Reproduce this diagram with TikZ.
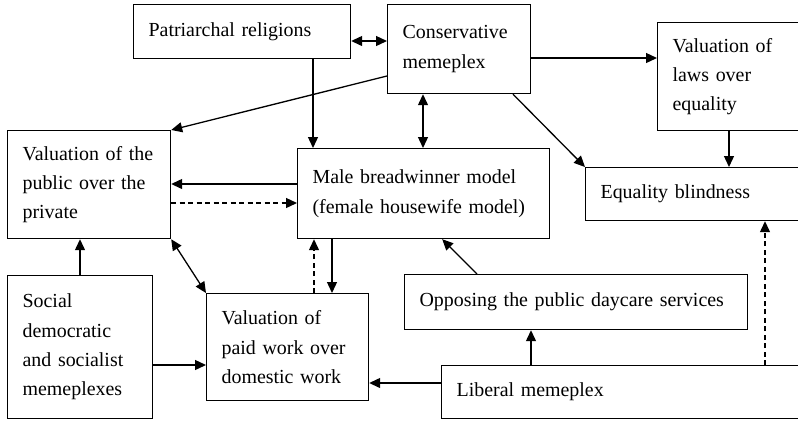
\documentclass[tikz,border=0pt]{standalone}
\usepackage{fontspec}
\setmainfont{Liberation Serif}
\usetikzlibrary{arrows.meta,calc}

\tikzset{
  box/.style={draw, line width=1.2bp, anchor=north west, inner xsep=15bp, inner ysep=0pt,
              align=left, font=\fontsize{20}{29.5}\selectfont},
  tip/.style={Triangle[length=11bp,width=10bp]},
  arr/.style={line width=1.3bp, -{Triangle[length=11bp,width=10bp]}},
  biarr/.style={line width=1.3bp, {Triangle[length=11bp,width=10bp]}-{Triangle[length=11bp,width=10bp]}},
  dasharr/.style={arr, dash pattern=on 5bp off 3.5bp},
}

\begin{document}
\begin{tikzpicture}[x=1bp,y=-1bp]
\useasboundingbox (0,0) rectangle (798,420);

% boxes: corner, then width and height in bp
\node[box, text width=187bp, minimum height=54bp]  (pat)  at (133,4)   {Patriarchal religions};
\node[box, text width=113bp, minimum height=89bp]  (cons) at (387,4)   {Conservative\\memeplex};
\node[box, text width=120bp, minimum height=108bp] (laws) at (657,22)  {Valuation of\\laws over\\equality};
\node[box, text width=133bp, minimum height=108bp] (pub)  at (7,130)   {Valuation of the\\public over the\\private};
\node[box, text width=222bp, minimum height=90bp]  (male) at (297,148) {Male breadwinner model\\(female housewife model)};
\node[box, text width=190bp, minimum height=53bp]  (eq)   at (585,167) {Equality blindness};
\node[box, text width=115bp, minimum height=143bp] (soc)  at (7,275)   {Social\\democratic\\and socialist\\memeplexes};
\node[box, text width=132bp, minimum height=107bp] (paid) at (206,293) {Valuation of\\paid work over\\domestic work};
\node[box, text width=313bp, minimum height=55bp]  (opp)  at (404,274) {Opposing the public daycare services};
\node[box, text width=334bp, minimum height=53bp]  (lib)  at (441,365) {Liberal memeplex};

% attachment points on box edges
\coordinate (c1) at ($(pat.north east)+(0,37)$);
\coordinate (c2) at ($(pat.south west)+(180,0)$);
\coordinate (c3) at ($(cons.north east)+(0,54)$);
\coordinate (c4) at ($(cons.north west)+(0,72)$);
\coordinate (c5) at ($(cons.south west)+(126,0)$);
\coordinate (c6) at ($(cons.south west)+(36,0)$);
\coordinate (c7) at ($(laws.south west)+(72,0)$);
\coordinate (c8) at ($(male.north west)+(0,36)$);
\coordinate (c9) at ($(pub.north east)+(0,73)$);
\coordinate (c10) at ($(soc.north west)+(73,0)$);
\coordinate (c11) at ($(paid.north west)+(108,0)$);
\coordinate (c12) at ($(paid.north west)+(126,0)$);
\coordinate (c13) at ($(soc.north east)+(0,90)$);
\coordinate (c14) at ($(lib.north west)+(0,18)$);
\coordinate (c15) at ($(lib.north west)+(90,0)$);
\coordinate (c16) at ($(lib.north west)+(324,0)$);
\coordinate (c17) at ($(opp.north west)+(73,0)$);
\coordinate (c18) at ($(male.south east)+(-108,0)$);

% connectors
\draw[biarr] (c1) -- (c1 -| cons.west);
\draw[arr] (c2) -- (c2 |- male.north);
\draw[arr] (c3) -- (c3 -| laws.west);
\draw[arr] (c4) -- (pub.north east);
\draw[arr] (c5) -- (eq.north west);
\draw[biarr] (c6) -- (c6 |- male.north);
\draw[arr] (c7) -- (c7 |- eq.north);
\draw[arr] (c8) -- (c8 -| pub.east);
\draw[dasharr] (c9) -- (c9 -| male.west);
\draw[arr] (c10) -- (c10 |- pub.south);
\draw[biarr] (pub.south east) -- (paid.north west);
\draw[dasharr] (c11) -- (c11 |- male.south);
\draw[arr] (c12 |- male.south) -- (c12);
\draw[arr] (c13) -- (c13 -| paid.west);
\draw[arr] (c14) -- (c14 -| paid.east);
\draw[arr] (c15) -- (c15 |- opp.south);
\draw[dasharr] (c16) -- (c16 |- eq.south);
\draw[arr] (c17) -- (c18);
\end{tikzpicture}
\end{document}
